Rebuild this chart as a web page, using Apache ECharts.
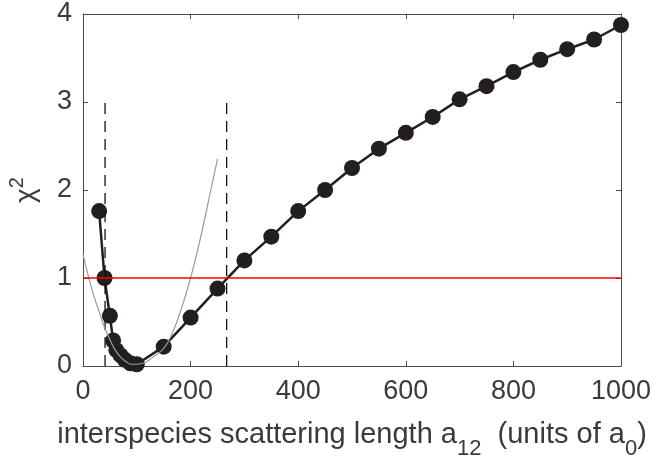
<!DOCTYPE html>
<html>
<head>
<meta charset="utf-8">
<script src="https://cdn.jsdelivr.net/npm/echarts@6/dist/echarts.min.js"></script>
<style>
  html, body { margin: 0; padding: 0; background: #fff; }
  #main { width: 661px; height: 459px; }
</style>
</head>
<body>
<div id="main"></div>
<script>
// scattering length (a0) and chi^2 values
var aVals = [30, 40, 50, 56, 62, 70, 78, 88, 100, 150, 200, 250, 300, 350, 400, 450,
	500, 550, 600, 650, 700, 750, 800, 850, 900, 950, 1000];
var chiVals = [1.76, 1.0, 0.57, 0.29, 0.18, 0.12, 0.07, 0.03, 0.02, 0.22, 0.55, 0.88, 1.20,
	1.47, 1.76, 2.0, 2.25, 2.47, 2.65, 2.83, 3.03, 3.18, 3.34, 3.48, 3.60, 3.71, 3.875];

// thin gray fit curve
var fitX = [0, 10, 20, 30, 40, 50, 60, 70, 80, 90, 100, 115, 130, 150, 165, 180, 200, 220, 240, 250];
var fitY = [1.27, 1.02, 0.80, 0.62, 0.44, 0.30, 0.18, 0.10, 0.05, 0.02, 0.02, 0.04, 0.10, 0.20,
	0.36, 0.60, 1.0, 1.5, 2.07, 2.35];

// vertical dashed markers and the chi^2 = 1 level
var dashX = [41, 267];
var dashTop = 3;
var levelY = 1;

function pairs(xs, ys) {
	var out = [];
	for (var i = 0; i < xs.length; i++) {
		out.push([xs[i], ys[i]]);
	}
	return out;
}

var fontFam = '"Liberation Sans", Arial, Helvetica, sans-serif';
var axisCol = '#4a4a4a';
var textCol = '#3a3a3a';

var series = [];

series.push({
	name: 'chi2',
	type: 'line',
	data: pairs(aVals, chiVals),
	symbol: 'circle',
	symbolSize: 16,
	clip: false,
	itemStyle: { color: '#231f20' },
	lineStyle: { color: '#231f20', width: 2.5 },
	z: 2,
	animation: false
});

for (var d = 0; d < dashX.length; d++) {
	series.push({
		type: 'line',
		data: [[dashX[d], 0], [dashX[d], dashTop]],
		symbol: 'none',
		lineStyle: { color: '#111', width: 1.3, type: [11, 7] },
		z: 3,
		animation: false
	});
}

series.push({
	type: 'line',
	data: pairs(fitX, fitY),
	symbol: 'none',
	smooth: true,
	lineStyle: { color: '#9a9a9a', width: 1.2 },
	z: 4,
	animation: false
});

series.push({
	type: 'line',
	data: [[0, levelY], [1000, levelY]],
	symbol: 'none',
	lineStyle: { color: '#ff0000', width: 1.5 },
	z: 5,
	animation: false
});

var commonAxisLine = { show: true, onZero: false, lineStyle: { color: axisCol, width: 1 } };
var commonTick = { show: true, inside: true, length: 5, lineStyle: { color: axisCol, width: 1 } };
var plain = function (v) { return String(v); };

var option = {
	backgroundColor: '#fff',
	animation: false,
	grid: { left: 83, right: 40, top: 14, bottom: 93, outerBoundsMode: 'none', containLabel: false },
	xAxis: [
		{
			type: 'value', position: 'bottom', min: 0, max: 1000, interval: 200,
			axisLine: commonAxisLine, axisTick: commonTick, splitLine: { show: false },
			axisLabel: { color: textCol, fontSize: 27, fontFamily: fontFam, margin: 12, formatter: plain },
			name: '{n|interspecies scattering length a}{s|12}{n|  (units of a}{s|0}{n|)}',
			nameLocation: 'middle',
			nameGap: 44,
			nameTextStyle: {
				color: textCol, fontFamily: fontFam,
				rich: {
					n: { fontSize: 29, color: textCol, fontFamily: fontFam },
					s: { fontSize: 22, color: textCol, fontFamily: fontFam, padding: [28, 0, 0, 0] }
				}
			}
		},
		{
			type: 'value', position: 'top', min: 0, max: 1000, interval: 200,
			axisLine: commonAxisLine, axisTick: commonTick, splitLine: { show: false },
			axisLabel: { show: false }
		}
	],
	yAxis: [
		{
			type: 'value', position: 'left', min: 0, max: 4, interval: 1,
			axisLine: commonAxisLine, axisTick: commonTick, splitLine: { show: false },
			axisLabel: { color: textCol, fontSize: 27, fontFamily: fontFam, margin: 11 },
			name: '{n|\u03c7}{p|2}',
			nameLocation: 'middle',
			nameGap: 38,
			nameTextStyle: {
				color: textCol, fontFamily: fontFam,
				rich: {
					n: { fontSize: 28, color: textCol, fontFamily: fontFam },
					p: { fontSize: 20, color: textCol, fontFamily: fontFam, padding: [0, 0, 18, 0] }
				}
			}
		},
		{
			type: 'value', position: 'right', min: 0, max: 4, interval: 1,
			axisLine: commonAxisLine, axisTick: commonTick, splitLine: { show: false },
			axisLabel: { show: false }
		}
	],
	series: series
};

var chart = echarts.init(document.getElementById('main'));
chart.setOption(option);
</script>
</body>
</html>
